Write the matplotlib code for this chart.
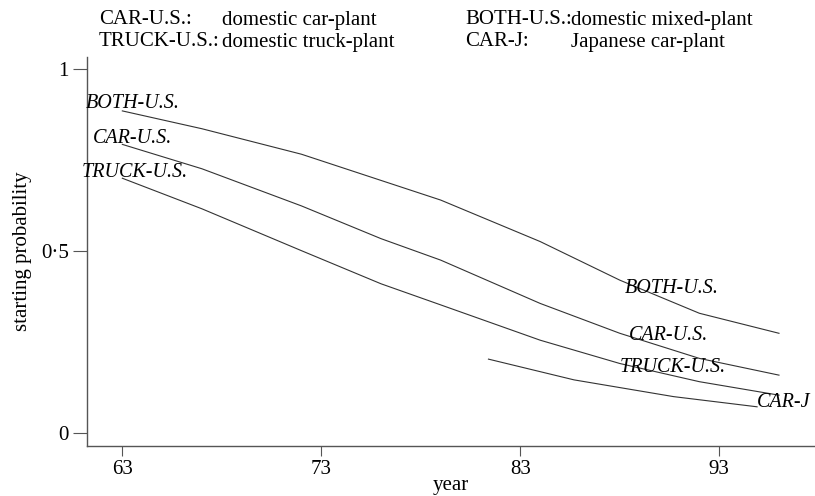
import matplotlib
matplotlib.use('Agg')
import matplotlib.pyplot as plt

plt.rcParams['font.family'] = ['Liberation Serif', 'DejaVu Serif']

# 读取的曲线数据（年份, 概率）
years_us = [63, 67, 72, 76, 79, 84, 88, 92, 96]
both_us = [0.885, 0.836, 0.766, 0.694, 0.640, 0.526, 0.420, 0.329, 0.274]
car_us = [0.793, 0.726, 0.624, 0.534, 0.475, 0.356, 0.274, 0.205, 0.159]
truck_us = [0.700, 0.616, 0.501, 0.410, 0.352, 0.255, 0.191, 0.141, 0.104]
years_j = [81.4, 85.7, 90.7, 94.9]
car_j = [0.203, 0.146, 0.100, 0.072]

xticks = [63, 73, 83, 93]
yticks = [0, 0.5, 1]
ytick_labels = ['0', '0\u00b75', '1']

legend_rows = [
    ('CAR-U.S.:', 'domestic car-plant', 'BOTH-U.S.:', 'domestic mixed-plant'),
    ('TRUCK-U.S.:', 'domestic truck-plant', 'CAR-J:', 'Japanese car-plant'),
]

fig = plt.figure(figsize=(8.15, 4.96), dpi=100)
ax = fig.add_axes([0.1064, 0.1008, 0.8936, 0.7842])

lc = '#333333'
for xs, ys in [(years_us, both_us), (years_us, car_us), (years_us, truck_us), (years_j, car_j)]:
    ax.plot(xs, ys, color=lc, lw=0.8)

ax.set_xlim(61.21, 97.81)
ax.set_ylim(-0.0357, 1.033)
ax.set_xticks(xticks)
ax.set_yticks(yticks)
ax.set_yticklabels(ytick_labels)
ax.tick_params(axis='x', length=7, width=0.8, color='#555555', labelsize=15, pad=3)
ax.tick_params(axis='y', length=10, width=0.8, color='#555555', labelsize=15, pad=3)
for s in ['top', 'right']:
    ax.spines[s].set_visible(False)
for s in ['left', 'bottom']:
    ax.spines[s].set_color('#555555')
    ax.spines[s].set_linewidth(1.0)

ax.set_xlabel('year', fontsize=15, labelpad=-2)
ax.set_ylabel('starting probability', fontsize=15, labelpad=6)

# 曲线标签
lab = dict(fontsize=14.5, style='italic', ha='center', va='center')
ax.text(63.54, 0.904, 'BOTH-U.S.', **lab)
ax.text(63.49, 0.810, 'CAR-U.S.', **lab)
ax.text(63.64, 0.717, 'TRUCK-U.S.', **lab)
ax.text(90.62, 0.396, 'BOTH-U.S.', **lab)
ax.text(90.47, 0.269, 'CAR-U.S.', **lab)
ax.text(90.67, 0.179, 'TRUCK-U.S.', **lab)
ax.text(96.25, 0.085, 'CAR-J', **lab)

# 顶部说明
W, H = 815.0, 496.0
for (k1, v1, k2, v2), py in zip(legend_rows, [20, 42]):
    fy = 1 - py / H
    fig.text(99 / W, fy, k1, fontsize=15, va='center')
    fig.text(222 / W, fy, v1, fontsize=15, va='center')
    fig.text(465 / W, fy, k2, fontsize=15, va='center')
    fig.text(571 / W, fy, v2, fontsize=15, va='center')

fig.savefig('out.png', dpi=100)
